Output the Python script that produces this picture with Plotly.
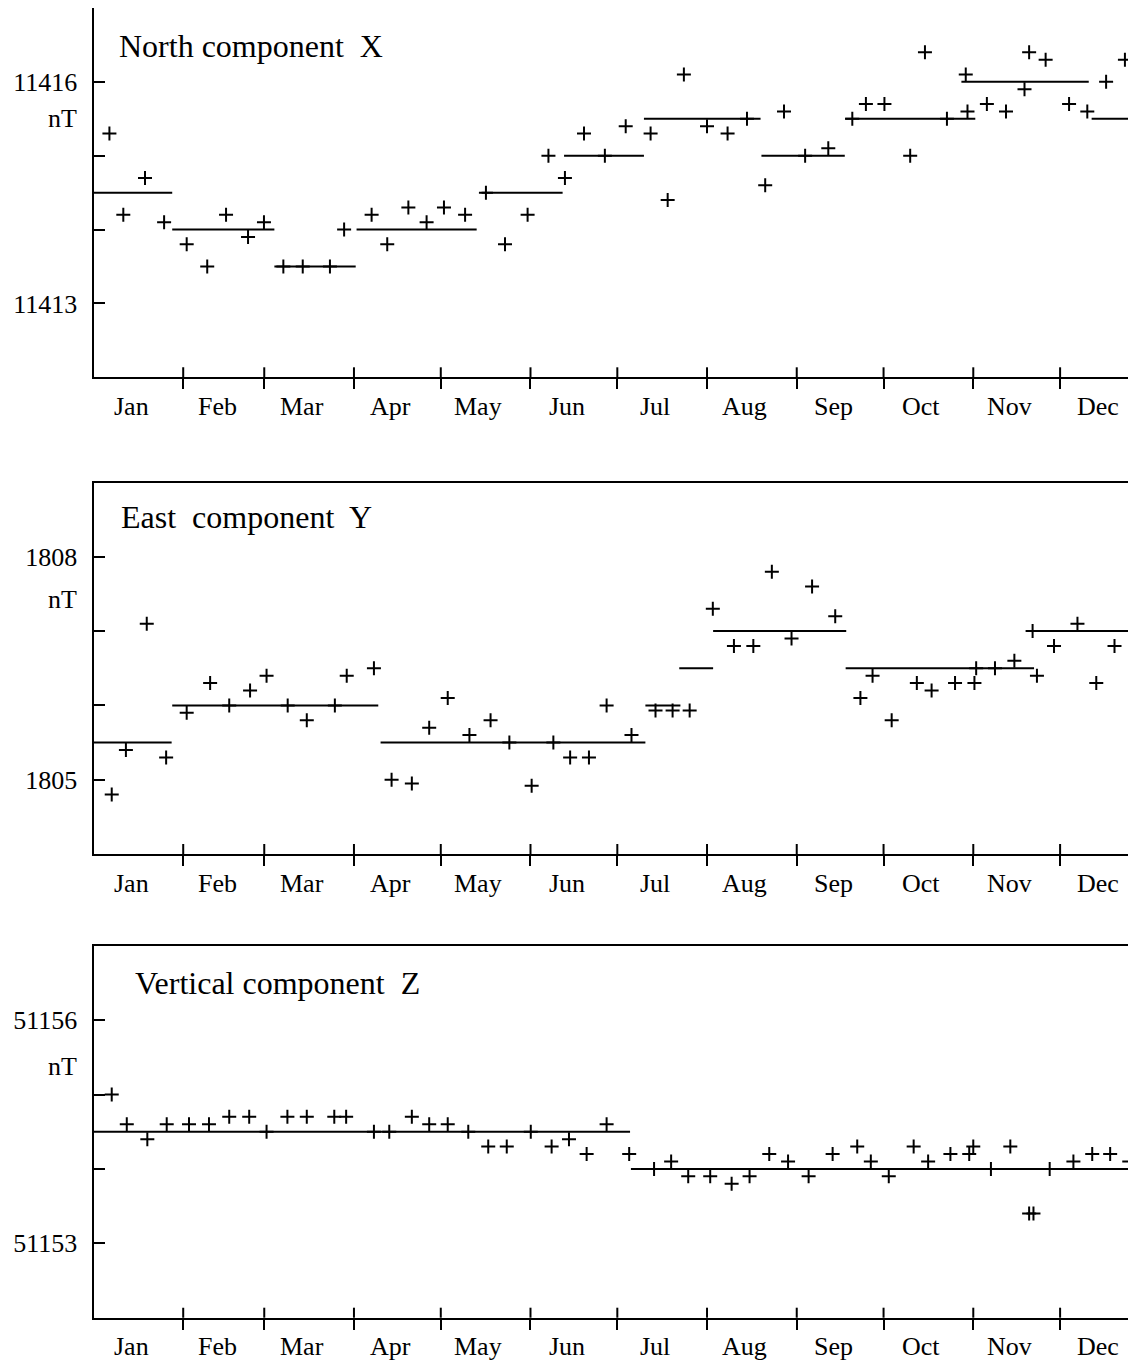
import plotly.graph_objects as go

# ---------------- data ----------------
MONTHS = ["Jan", "Feb", "Mar", "Apr", "May", "Jun", "Jul", "Aug", "Sep", "Oct", "Nov", "Dec"]
MONTH_DAYS = [31, 28, 31, 30, 31, 30, 31, 31, 30, 31, 30, 31]

# North component X (day of year, nT)
north_days = [5.5, 10.3, 17.8, 24.4, 32.2, 39.3, 45.8, 53.4, 58.9, 65.6, 72.3, 81.7, 86.6,
              96.1, 101.5, 108.8, 115.1, 121.1, 128.4, 135.6, 142.2, 150.0, 157.2, 162.9,
              169.5, 176.7, 183.9, 192.5, 198.4, 204.0, 212.0, 219.1, 225.8, 232.1, 238.6,
              245.9, 253.9, 262.2, 266.9, 273.3, 282.2, 287.3, 294.9, 301.4, 302.0, 308.7,
              315.3, 321.7, 323.3, 329.0, 337.1, 343.4, 349.9, 356.4]
north_vals = [11415.3, 11414.2, 11414.7, 11414.1, 11413.8, 11413.5, 11414.2, 11413.9, 11414.1,
              11413.5, 11413.5, 11413.5, 11414.0, 11414.2, 11413.8, 11414.3, 11414.1, 11414.3,
              11414.2, 11414.5, 11413.8, 11414.2, 11415.0, 11414.7, 11415.3, 11415.0, 11415.4,
              11415.3, 11414.4, 11416.1, 11415.4, 11415.3, 11415.5, 11414.6, 11415.6, 11415.0,
              11415.1, 11415.5, 11415.7, 11415.7, 11415.0, 11416.4, 11415.5, 11416.1, 11415.6,
              11415.7, 11415.6, 11415.9, 11416.4, 11416.3, 11415.7, 11415.6, 11416.0, 11416.3]
north_mean_start = [0, 27.2, 62.5, 90.9, 134.1, 162.6, 190.2, 230.8, 259.7, 299.9, 344.9]
north_mean_end = [27.2, 62.5, 90.6, 132.4, 162.1, 190.2, 230.5, 259.6, 304.7, 343.9, 365]
north_mean_val = [11414.5, 11414.0, 11413.5, 11414.0, 11414.5, 11415.0, 11415.5, 11415.0,
                  11415.5, 11416.0, 11415.5]

# East component Y
east_days = [6.3, 11.2, 18.4, 25.1, 32.2, 40.3, 46.9, 54.1, 59.8, 67.1, 73.7, 83.4, 87.5,
             96.9, 103.0, 110.0, 116.0, 122.4, 129.9, 137.2, 143.7, 151.4, 158.9, 164.7,
             171.2, 177.3, 185.9, 194.2, 200.1, 206.0, 214.0, 221.3, 228.0, 234.4, 241.2,
             248.3, 256.3, 265.0, 269.2, 275.8, 284.5, 289.6, 297.7, 304.4, 305.0, 311.5,
             318.2, 324.5, 326.0, 331.9, 340.0, 346.5, 352.8, 359.3]
east_vals = [1804.8, 1805.4, 1807.1, 1805.3, 1805.9, 1806.3, 1806.0, 1806.2, 1806.4,
             1806.0, 1805.8, 1806.0, 1806.4, 1806.5, 1805.0, 1804.95, 1805.7, 1806.1,
             1805.6, 1805.8, 1805.5, 1804.92, 1805.5, 1805.3, 1805.3, 1806.0, 1805.6,
             1805.93, 1805.93, 1805.93, 1807.3, 1806.8, 1806.8, 1807.8, 1806.9, 1807.6,
             1807.2, 1806.1, 1806.4, 1805.8, 1806.3, 1806.2, 1806.3, 1806.3, 1806.5,
             1806.5, 1806.6, 1807.0, 1806.4, 1806.8, 1807.1, 1806.3, 1806.8, 1807.0]
east_mean_start = [0, 27.2, 99.2, 190.7, 202.4, 214.1, 259.9, 326.2]
east_mean_end = [27.0, 98.4, 190.7, 202.8, 214.1, 260.1, 325.0, 365]
east_mean_val = [1805.5, 1806.0, 1805.5, 1806.0, 1806.5, 1807.0, 1806.5, 1807.0]

# Vertical component Z
vert_days = [6.3, 11.5, 18.6, 25.3, 33.0, 39.9, 46.9, 53.8, 59.8, 67.0, 73.7, 83.2, 87.3,
             96.9, 102.2, 110.0, 116.0, 122.4, 129.5, 136.4, 142.8, 151.1, 158.3, 164.3,
             170.4, 177.3, 185.1, 193.7, 199.6, 205.5, 213.1, 220.5, 226.7, 233.5, 240.0,
             247.1, 255.4, 263.9, 268.6, 274.8, 283.4, 288.4, 296.1, 302.6, 304.0, 310.1,
             316.8, 323.3, 324.8, 330.4, 338.6, 345.1, 351.3, 357.9]
vert_vals = [51155.0, 51154.6, 51154.4, 51154.6, 51154.6, 51154.6, 51154.7, 51154.7, 51154.5,
             51154.7, 51154.7, 51154.7, 51154.7, 51154.5, 51154.5, 51154.7, 51154.6, 51154.6,
             51154.5, 51154.3, 51154.3, 51154.5, 51154.3, 51154.4, 51154.2, 51154.6, 51154.2,
             51154.0, 51154.1, 51153.9, 51153.9, 51153.8, 51153.9, 51154.2, 51154.1, 51153.9,
             51154.2, 51154.3, 51154.1, 51153.9, 51154.3, 51154.1, 51154.2, 51154.2, 51154.3,
             51154.0, 51154.3, 51153.4, 51153.4, 51154.0, 51154.1, 51154.2, 51154.2, 51154.1]
vert_mean_start = [0, 185.7]
vert_mean_end = [185.4, 365]
vert_mean_val = [51154.5, 51154.0]

panels = [
    dict(title="North component\u00a0 X", days=north_days, vals=north_vals,
         ms=north_mean_start, me=north_mean_end, mv=north_mean_val,
         yticks=[11413, 11414, 11415, 11416], ylab=[11413, 11416], yrange=[11412, 11417]),
    dict(title="East\u00a0 component\u00a0 Y", days=east_days, vals=east_vals,
         ms=east_mean_start, me=east_mean_end, mv=east_mean_val,
         yticks=[1805, 1806, 1807, 1808], ylab=[1805, 1808], yrange=[1804, 1809]),
    dict(title="Vertical component\u00a0 Z", days=vert_days, vals=vert_vals,
         ms=vert_mean_start, me=vert_mean_end, mv=vert_mean_val,
         yticks=[51153, 51154, 51155, 51156], ylab=[51153, 51156], yrange=[51152, 51157]),
]

# ---------------- layout geometry ----------------
# the page body has an 8px margin, so the figure is 8px smaller and all
# reference pixel positions are shifted by OFF
OFF = 8
W, H = 1136 - OFF, 1361 - OFF
LEFT_PX = 93.5 - OFF
PX_PER_DAY = 2.894
X_MAX = (W - LEFT_PX) / PX_PER_DAY
panel_px = [(7, 377.3), (482.5, 854), (945.7, 1317.7)]  # top, bottom (reference px)
title_pos = [(117, 38), (119, 34), (133, 37)]            # left px, offset below top
unit_drop = [0.5, 0.58, 0.62]                             # "nT" below top label (axis units)
right_tick_len = [8, 0, 4]

FONT = "Liberation Serif"
month_starts = [sum(MONTH_DAYS[:i]) for i in range(12)]
boundaries = month_starts[1:]
label_pos = [month_starts[i] + 0.42 * MONTH_DAYS[i] for i in range(12)]

fig = go.Figure()
shapes = []
annotations = []

for i, p in enumerate(panels):
    sfx = "" if i == 0 else str(i + 1)
    xa, ya = "x" + sfx, "y" + sfx

    # monthly mean segments
    sx, sy = [], []
    for s, e, v in zip(p["ms"], p["me"], p["mv"]):
        sx += [s, e, None]
        sy += [v, v, None]
    fig.add_trace(go.Scatter(x=sx, y=sy, mode="lines", xaxis=xa, yaxis=ya,
                             line=dict(color="black", width=2), showlegend=False,
                             hoverinfo="skip"))
    # observations
    fig.add_trace(go.Scatter(x=p["days"], y=p["vals"], mode="markers", xaxis=xa, yaxis=ya,
                             marker=dict(symbol="cross-thin", size=10, color="black",
                                         line=dict(color="black", width=2)),
                             showlegend=False))

    top, bot = panel_px[i]
    top, bot = max(top - OFF, 0), bot - OFF
    dom = [1 - bot / H, 1 - top / H]
    ph = bot - top
    fig.layout["xaxis" + sfx] = dict(
        domain=[LEFT_PX / W, 1], range=[0, X_MAX], anchor=ya,
        showline=True, linecolor="black", linewidth=2, mirror=True,
        showgrid=False, zeroline=False,
        tickmode="array", tickvals=boundaries, ticks="outside", ticklen=10,
        tickwidth=2, tickcolor="black", showticklabels=False)
    fig.layout["yaxis" + sfx] = dict(
        domain=dom, range=p["yrange"], anchor=xa,
        showline=True, linecolor="black", linewidth=2, mirror=False,
        showgrid=False, zeroline=False,
        tickmode="array", tickvals=p["yticks"],
        ticktext=[str(t) if t in p["ylab"] else "" for t in p["yticks"]],
        ticks="inside", ticklen=11, tickwidth=2, tickcolor="black",
        ticklabelstandoff=9,
        tickfont=dict(family=FONT, size=26, color="black"))

    # inner half of the crossing month ticks
    for b in boundaries:
        shapes.append(dict(type="line", xref=xa, yref=ya + " domain", x0=b, x1=b,
                           y0=0, y1=10 / ph, line=dict(color="black", width=2)))
    # right-hand ticks (partially visible)
    if right_tick_len[i] > 0:
        for t in p["yticks"]:
            shapes.append(dict(type="line", xref=xa + " domain", yref=ya,
                               x0=1 - right_tick_len[i] / (W - LEFT_PX), x1=1, y0=t, y1=t,
                               line=dict(color="black", width=2)))

    # month labels
    for m, lx in zip(MONTHS, label_pos):
        annotations.append(dict(text=m, x=lx, xref=xa, y=0, yref=ya + " domain",
                                yshift=-29, yanchor="middle", xanchor="center",
                                showarrow=False,
                                font=dict(family=FONT, size=26, color="black")))
    # unit label
    annotations.append(dict(text="nT", x=0, xref="paper", xanchor="right",
                            xshift=LEFT_PX - 15, y=p["ylab"][1] - unit_drop[i], yref=ya,
                            yanchor="middle", showarrow=False,
                            font=dict(family=FONT, size=26, color="black")))
    # panel title
    tl, toff = title_pos[i]
    annotations.append(dict(text=p["title"], x=(tl - OFF - LEFT_PX) / (W - LEFT_PX),
                            xref=xa + " domain", xanchor="left",
                            y=1, yref=ya + " domain", yshift=-toff, yanchor="middle",
                            showarrow=False,
                            font=dict(family=FONT, size=32, color="black")))

fig.update_layout(
    width=W, height=H,
    margin=dict(l=0, r=0, t=0, b=0, pad=0, autoexpand=False),
    paper_bgcolor="white", plot_bgcolor="white",
    shapes=shapes, annotations=annotations, showlegend=False,
)

fig.write_html("out.html")
